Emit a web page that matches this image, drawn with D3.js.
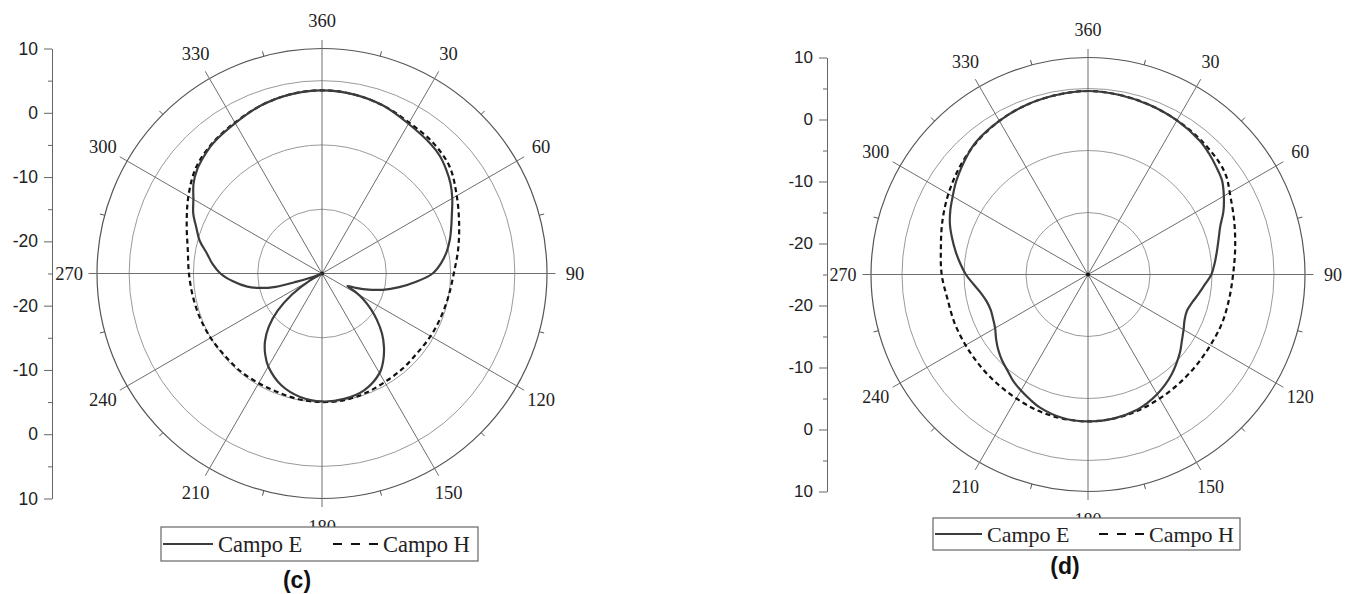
<!DOCTYPE html>
<html>
<head>
<meta charset="utf-8">
<script src="https://cdn.jsdelivr.net/npm/d3@7"></script>
<style>
  body { margin: 0; background: #fff; }
  svg { display: block; }
</style>
</head>
<body>
<svg id="chart" width="1354" height="594"></svg>
<script>
// Antenna radiation patterns: gain (dB) versus azimuth (degrees)
const spokeAngles = [0, 30, 60, 90, 120, 150];
const angleTickValues = [0, 30, 60, 90, 120, 150, 180, 210, 240, 270, 300, 330];
const angleTickLabels = ["360", "30", "60", "90", "120", "150", "180", "210", "240", "270", "300", "330"];
const minorAngleTicks = [15, 45, 75, 105, 135, 165, 195, 225, 255, 285, 315, 345];
const ringValues = [-15, -5, 5];
const radialDomain = [-25, 10];
const axisMajorTicks = [-20, -10, 0, 10];
const axisMinorTicks = [-15, -5, 5];
const seriesNames = ["Campo E", "Campo H"];
const panelNames = ["(c)", "(d)"];

// Panel (c)
const eAnglesC = [0, 10, 20, 30, 40, 45, 50, 55, 60, 65, 70, 75, 80, 85, 90, 95, 100, 105, 110, 113, 116, 119, 122, 126, 130, 135, 140, 145, 150, 160, 170, 180, 190, 200, 210, 215, 220, 225, 230, 235, 240, 245, 250, 252, 254, 257, 260, 265, 270, 275, 280, 285, 290, 295, 300, 305, 310, 315, 320, 330, 340, 350];
const eValuesC = [3.5, 3.3, 2.8, 1.9, 1.3, 0.9, 0.2, -0.6, -1.6, -2.7, -3.6, -4.4, -5.3, -6.4, -7.8, -10.3, -12.8, -15.2, -17.8, -19.3, -20.6, -19.0, -17.4, -15.6, -13.9, -11.8, -10.0, -8.4, -7.1, -5.7, -5.2, -5.1, -5.5, -6.5, -8.3, -9.6, -11.2, -13.3, -16.0, -19.3, -22.8, -25, -23.2, -20.9, -17.5, -15.0, -13.2, -11.1, -9.2, -7.9, -6.8, -5.3, -4.2, -2.9, -1.9, -0.6, 0.3, 0.9, 1.4, 2.0, 2.8, 3.3];
const hAnglesC = [0, 10, 20, 30, 40, 50, 60, 70, 80, 90, 100, 110, 120, 130, 140, 150, 160, 170, 180, 190, 200, 210, 220, 230, 240, 250, 260, 270, 280, 290, 300, 310, 320, 330, 340, 350];
const hValuesC = [3.5, 3.3, 2.8, 2.1, 1.7, 0.9, -0.8, -2.3, -3.5, -4.5, -5.0, -5.3, -5.5, -5.7, -5.6, -5.5, -5.2, -5.0, -5.0, -5.1, -5.3, -5.3, -5.2, -5.2, -5.0, -4.8, -4.6, -4.3, -3.8, -2.6, -1.0, 0.6, 1.5, 2.1, 2.8, 3.3];

// Panel (d)
const eAnglesD = [0, 10, 20, 30, 40, 45, 50, 55, 60, 65, 70, 75, 80, 85, 90, 95, 100, 105, 110, 115, 120, 125, 130, 135, 140, 145, 150, 155, 160, 170, 180, 190, 200, 205, 210, 215, 220, 225, 230, 235, 240, 245, 250, 255, 260, 265, 270, 275, 280, 285, 290, 295, 300, 305, 310, 315, 320, 330, 340, 350];
const eValuesD = [4.6, 4.4, 4.1, 3.7, 3.1, 2.6, 2.0, 1.4, 0.3, -0.9, -2.3, -3.2, -3.9, -4.5, -5.1, -6.1, -6.9, -7.6, -8.0, -7.8, -7.2, -6.5, -5.6, -4.8, -4.0, -3.3, -2.7, -2.2, -1.8, -1.4, -1.3, -1.5, -2.2, -2.8, -3.4, -4.0, -4.8, -5.4, -6.1, -6.9, -7.7, -8.1, -8.3, -8.1, -7.5, -6.5, -5.3, -4.3, -3.3, -2.3, -1.3, -0.5, 0.2, 1.0, 1.7, 2.4, 3.0, 3.6, 4.1, 4.4];
const hAnglesD = [0, 10, 20, 30, 40, 50, 55, 60, 70, 80, 90, 100, 110, 120, 130, 140, 150, 160, 170, 180, 190, 200, 210, 220, 230, 240, 250, 260, 270, 280, 290, 300, 310, 320, 330, 340, 350];
const hValuesD = [4.6, 4.4, 4.1, 3.7, 3.3, 2.8, 2.3, 1.4, 0.1, -0.9, -1.6, -1.9, -2.0, -2.2, -2.2, -2.1, -1.9, -1.6, -1.4, -1.3, -1.4, -1.6, -1.9, -2.1, -2.2, -2.2, -2.1, -2.0, -1.4, -0.9, 0.0, 1.0, 2.0, 2.9, 3.6, 4.1, 4.4];

const svg = d3.select("#chart");
const toPoints = (angles, values) => angles.map((a, i) => ({ a, v: values[i] }));

const panels = [
  {
    name: panelNames[0], cx: 322, cy: 273.5, R: 225, axisX: 52,
    angleFont: 18.5, axisFont: 17.5,
    e: toPoints(eAnglesC, eValuesC), h: toPoints(hAnglesC, hValuesC),
    legend: { x: 161, y: 527, w: 317, h: 34, font: 22.5, eLine: [2, 52], eText: 57, hLine: [172, 219], hText: 222 },
    tag: { x: 297, y: 588 }
  },
  {
    name: panelNames[1], cx: 1088, cy: 274.5, R: 217, axisX: 827,
    angleFont: 18, axisFont: 17,
    e: toPoints(eAnglesD, eValuesD), h: toPoints(hAnglesD, hValuesD),
    legend: { x: 933, y: 518, w: 307, h: 32, font: 22, eLine: [2, 49], eText: 54, hLine: [166, 212], hText: 216 },
    tag: { x: 1065, y: 574 }
  }
];

const rad = d => d * Math.PI / 180;

panels.forEach(p => {
  const r = d3.scaleLinear().domain(radialDomain).range([0, p.R]).clamp(true);
  const g = svg.append("g").attr("transform", `translate(${p.cx},${p.cy})`);

  // concentric grid rings
  g.selectAll("circle.ring").data(ringValues).join("circle")
    .attr("class", "ring")
    .attr("r", d => r(d))
    .attr("fill", "none").attr("stroke", "#9a9a9a").attr("stroke-width", 1);

  // outer boundary
  g.append("circle").attr("r", r(radialDomain[1]))
    .attr("fill", "none").attr("stroke", "#555").attr("stroke-width", 1.2);

  // small ticks on the boundary between spokes
  g.selectAll("line.mtick").data(minorAngleTicks).join("line")
    .attr("class", "mtick")
    .attr("x1", d => p.R * Math.sin(rad(d)))
    .attr("y1", d => -p.R * Math.cos(rad(d)))
    .attr("x2", d => (p.R + 5) * Math.sin(rad(d)))
    .attr("y2", d => -(p.R + 5) * Math.cos(rad(d)))
    .attr("stroke", "#555").attr("stroke-width", 1);

  // angular spokes (full diameters reaching past the boundary)
  const ext = p.R + 8.5;
  g.selectAll("line.spoke").data(spokeAngles).join("line")
    .attr("class", "spoke")
    .attr("x1", d => ext * Math.sin(rad(d)))
    .attr("y1", d => -ext * Math.cos(rad(d)))
    .attr("x2", d => -ext * Math.sin(rad(d)))
    .attr("y2", d => ext * Math.cos(rad(d)))
    .attr("stroke", "#6e6e6e").attr("stroke-width", 1);

  g.append("circle").attr("r", 2).attr("fill", "#111");

  // angle labels
  const lr = p.R + 28;
  g.selectAll("text.alab").data(angleTickValues).join("text")
    .attr("class", "alab")
    .attr("x", d => lr * Math.sin(rad(d)))
    .attr("y", d => -lr * Math.cos(rad(d)))
    .attr("text-anchor", "middle")
    .attr("dominant-baseline", "central")
    .attr("font-family", "'Liberation Serif', 'Times New Roman', serif")
    .attr("font-size", p.angleFont)
    .attr("fill", "#222")
    .text((d, i) => angleTickLabels[i]);

  // pattern curves
  const line = d3.lineRadial()
    .angle(d => rad(d.a))
    .radius(d => r(d.v))
    .curve(d3.curveCatmullRomClosed.alpha(0.5));

  g.append("path").datum(p.h)
    .attr("d", line)
    .attr("fill", "none").attr("stroke", "#111").attr("stroke-width", 2.2)
    .attr("stroke-dasharray", "5,3.5");

  g.append("path").datum(p.e)
    .attr("d", line)
    .attr("fill", "none").attr("stroke", "#3c3c3c").attr("stroke-width", 2.2);

  // mirrored radial axis on the left
  const yTop = d3.scaleLinear().domain(radialDomain).range([p.cy, p.cy - p.R]);
  const yBot = d3.scaleLinear().domain(radialDomain).range([p.cy, p.cy + p.R]);
  [yTop, yBot].forEach((ys, k) => {
    const ax = svg.append("g").attr("transform", `translate(${p.axisX},0)`);
    ax.call(d3.axisLeft(ys).tickValues(axisMajorTicks).tickSize(8).tickSizeOuter(0).tickPadding(6).tickFormat(d => String(d)));
    ax.append("g").call(d3.axisLeft(ys).tickValues(k === 0 ? axisMinorTicks.concat([radialDomain[0]]) : axisMinorTicks).tickSize(4).tickSizeOuter(0).tickFormat(""))
      .select(".domain").remove();
    ax.selectAll("path.domain, line").attr("stroke", "#666");
    ax.selectAll("text")
      .attr("font-family", "'Liberation Sans', Arial, sans-serif")
      .attr("font-size", p.axisFont)
      .attr("fill", "#222");
  });

  // legend
  const L = p.legend;
  const lg = svg.append("g").attr("transform", `translate(${L.x},${L.y})`);
  lg.append("rect").attr("width", L.w).attr("height", L.h)
    .attr("fill", "#fff").attr("stroke", "#666").attr("stroke-width", 1.2);
  const my = L.h / 2;
  lg.append("line").attr("x1", L.eLine[0]).attr("x2", L.eLine[1]).attr("y1", my).attr("y2", my)
    .attr("stroke", "#3c3c3c").attr("stroke-width", 2.2);
  lg.append("line").attr("x1", L.hLine[0]).attr("x2", L.hLine[1]).attr("y1", my).attr("y2", my)
    .attr("stroke", "#111").attr("stroke-width", 2.2).attr("stroke-dasharray", "9,9");
  [[L.eText, seriesNames[0]], [L.hText, seriesNames[1]]].forEach(([x, t]) => {
    lg.append("text").attr("x", x).attr("y", my).attr("dy", "0.35em")
      .attr("font-family", "'Liberation Serif', 'Times New Roman', serif")
      .attr("font-size", L.font).attr("fill", "#222").text(t);
  });

  // panel tag
  svg.append("text").attr("x", p.tag.x).attr("y", p.tag.y)
    .attr("text-anchor", "middle")
    .attr("font-family", "'Liberation Sans', Arial, sans-serif")
    .attr("font-weight", "bold").attr("font-size", 23).attr("fill", "#111")
    .text(p.name);
});
</script>
</body>
</html>
